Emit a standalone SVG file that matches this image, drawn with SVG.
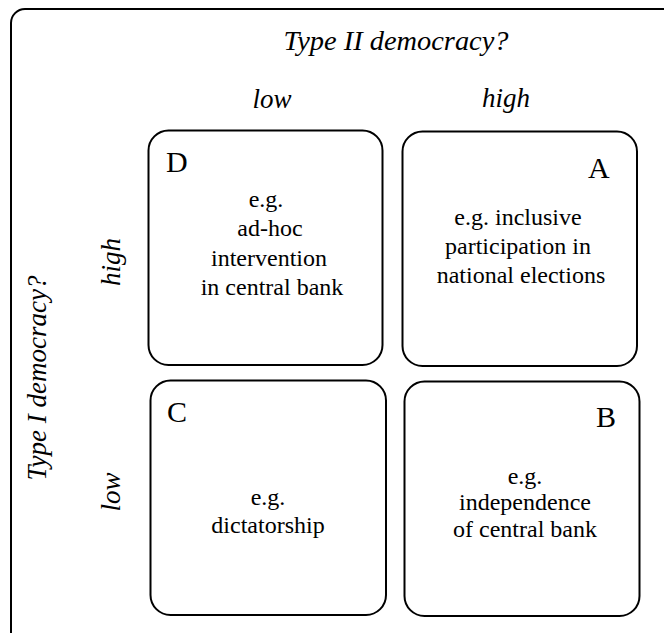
<svg xmlns="http://www.w3.org/2000/svg" width="664" height="633" viewBox="0 0 664 633">
<style>
.frame{fill:none;stroke:#000;stroke-width:2}
.box{fill:#fff;stroke:#000;stroke-width:2}
text{font-family:'Liberation Serif',Tinos,'Nimbus Roman','DejaVu Serif',serif;fill:#000}
.ax{font-style:italic;font-size:27px}
.let{font-size:30px}
.txt{font-size:24px;text-anchor:middle}
</style>
<rect width="664" height="633" fill="#fff"/>
<rect class="frame" x="11" y="9" width="700" height="640" rx="14"/>
<g id="axes">
<text class="ax" x="283.5" y="50" textLength="225" lengthAdjust="spacingAndGlyphs">Type II democracy?</text>
<text class="ax" x="272" y="108" text-anchor="middle">low</text>
<text class="ax" x="506" y="107" text-anchor="middle">high</text>
<text class="ax" transform="translate(46,378) rotate(-90)" text-anchor="middle">Type I democracy?</text>
<text class="ax" transform="translate(120,262) rotate(-90)" text-anchor="middle">high</text>
<text class="ax" transform="translate(120,492) rotate(-90)" text-anchor="middle">low</text>
</g>
<g id="D">
<rect class="box" x="148.5" y="130.5" width="234" height="234.5" rx="20"/>
<text class="let" x="166" y="172">D</text>
<text class="txt" x="266" y="207">e.g.</text>
<text class="txt" x="270" y="236">ad-hoc</text>
<text class="txt" x="269" y="266">intervention</text>
<text class="txt" x="272" y="295">in central bank</text>
</g>
<g id="A">
<rect class="box" x="402.5" y="131.5" width="234.5" height="234.5" rx="20"/>
<text class="let" x="588" y="178">A</text>
<text class="txt" x="518" y="225">e.g. inclusive</text>
<text class="txt" x="518" y="254">participation in</text>
<text class="txt" x="521" y="283">national elections</text>
</g>
<g id="C">
<rect class="box" x="150.5" y="380.5" width="235.5" height="234.5" rx="20"/>
<text class="let" x="167" y="422">C</text>
<text class="txt" x="268" y="505">e.g.</text>
<text class="txt" x="268" y="533">dictatorship</text>
</g>
<g id="B">
<rect class="box" x="404.5" y="381.5" width="235" height="234.5" rx="20"/>
<text class="let" x="596" y="427">B</text>
<text class="txt" x="525" y="484">e.g.</text>
<text class="txt" x="525" y="510">independence</text>
<text class="txt" x="525" y="537">of central bank</text>
</g>
<g id="connectors"></g>
</svg>
